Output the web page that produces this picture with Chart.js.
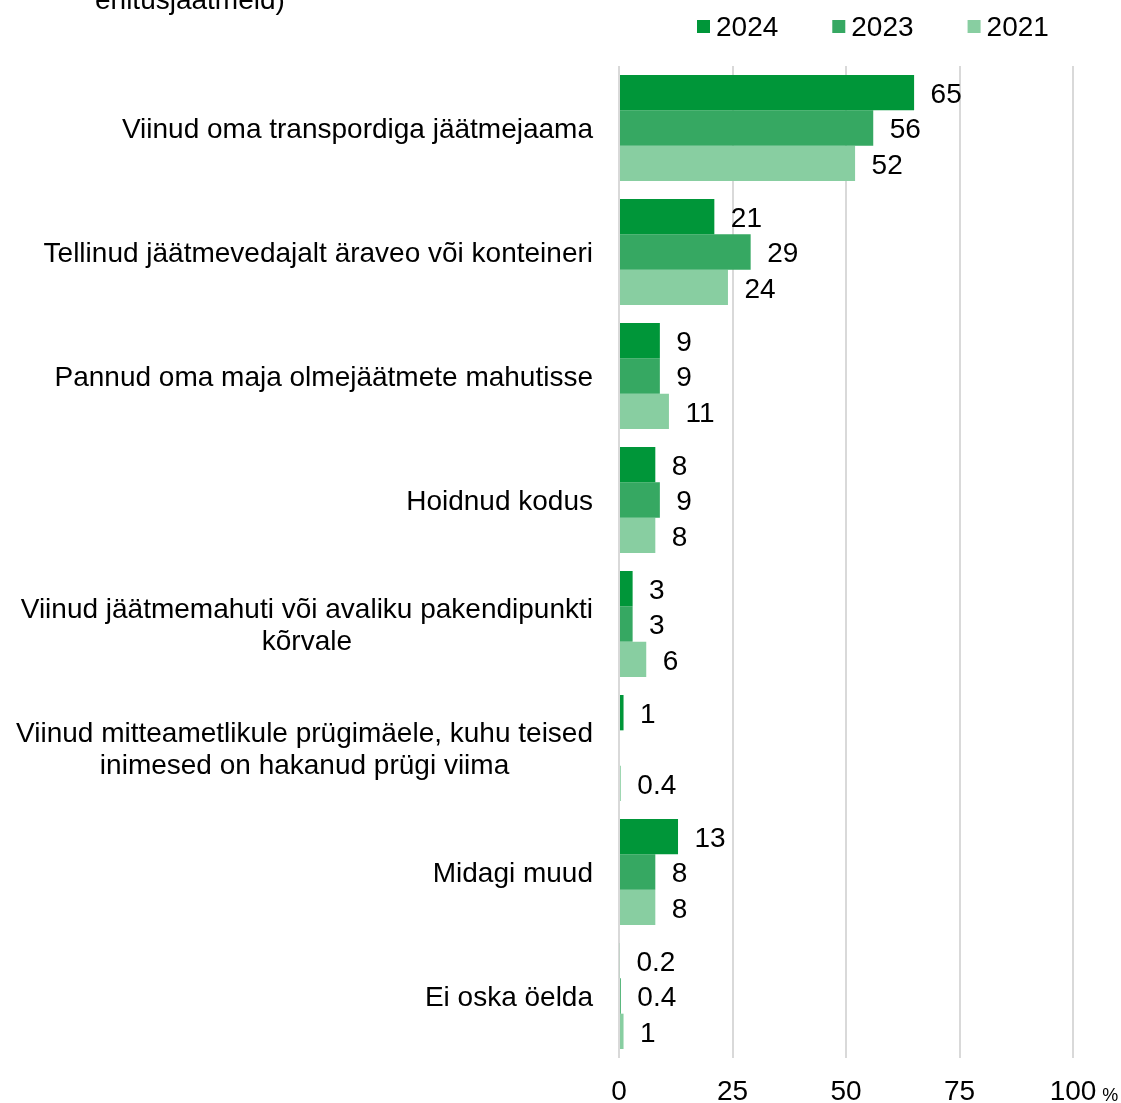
<!DOCTYPE html>
<html><head><meta charset="utf-8">
<script src="https://cdn.jsdelivr.net/npm/chart.js@4.4.1/dist/chart.umd.min.js"></script>
<style>
html,body{margin:0;padding:0;background:#fff;overflow:hidden}
#wrap{position:relative;width:1121px;height:1103px;overflow:hidden}
#title{position:absolute;left:95px;top:-14px;font:28px/28px "Liberation Sans",Arial,sans-serif;color:#000;white-space:nowrap}
canvas{display:block}
</style></head><body>
<div id="wrap"><canvas id="c" width="1121" height="1103"></canvas><div id="title">ehitusjäätmeid)</div></div>
<script>
const categories = [
  ["Viinud oma transpordiga jäätmejaama"],
  ["Tellinud jäätmevedajalt äraveo või konteineri"],
  ["Pannud oma maja olmejäätmete mahutisse"],
  ["Hoidnud kodus"],
  ["Viinud jäätmemahuti või avaliku pakendipunkti", "kõrvale"],
  ["Viinud mitteametlikule prügimäele, kuhu teised", "inimesed on hakanud prügi viima"],
  ["Midagi muud"],
  ["Ei oska öelda"]
];
const seriesNames = ["2024", "2023", "2021"];
const values2024 = [65, 21, 9, 8, 3, 1, 13, 0.2];
const values2023 = [56, 29, 9, 9, 3, null, 8, 0.4];
const values2021 = [52, 24, 11, 8, 6, 0.4, 8, 1];
const xTicks = [0, 25, 50, 75, 100];
const unitLabel = "%";

const colors = ["#009639", "#36a862", "#88cea1"];
const FONT = '"Liberation Sans", Arial, sans-serif';
const TY = 2.5; // vertical text nudge

const customPlugin = {
  id: 'custom',
  afterDraw(chart) {
    const ctx = chart.ctx;
    const area = chart.chartArea;
    const ys = chart.scales.y, xs = chart.scales.x;
    ctx.save();
    ctx.fillStyle = '#000';
    ctx.font = '28px ' + FONT;
    // category labels
    ctx.textAlign = 'center';
    ctx.textBaseline = 'middle';
    categories.forEach((lines, i) => {
      const py = ys.getPixelForValue(i);
      const maxW = Math.max(...lines.map(l => ctx.measureText(l).width));
      const cx = area.left - 26 - maxW / 2;
      lines.forEach((ln, j) => {
        ctx.fillText(ln, cx, py + TY + (j - (lines.length - 1) / 2) * 32);
      });
    });
    // data labels
    ctx.textAlign = 'left';
    chart.data.datasets.forEach((ds, d) => {
      const meta = chart.getDatasetMeta(d);
      meta.data.forEach((el, i) => {
        const v = ds.data[i];
        if (v === null || v === undefined) return;
        ctx.fillText(String(v), el.x + 16.5, el.y + TY);
      });
    });
    // legend
    let lx = 697;
    const ly = 26;
    chart.data.datasets.forEach((ds, d) => {
      ctx.fillStyle = ds.backgroundColor;
      ctx.fillRect(lx, ly - 6, 13, 13);
      ctx.fillStyle = '#000';
      ctx.textAlign = 'left';
      ctx.fillText(ds.label, lx + 19, ly + TY);
      lx += 19 + ctx.measureText(ds.label).width + 54;
    });
    // unit after last tick
    const lastVal = xTicks[xTicks.length - 1];
    const px = xs.getPixelForValue(lastVal);
    const w = ctx.measureText(String(lastVal)).width;
    ctx.font = '18px ' + FONT;
    ctx.textAlign = 'left';
    ctx.textBaseline = 'alphabetic';
    ctx.fillText(unitLabel, px + w / 2 + 6, 1101);
    ctx.restore();
  }
};

new Chart(document.getElementById('c'), {
  type: 'bar',
  data: {
    labels: categories.map(c => c.join(' ')),
    datasets: [
      { label: seriesNames[0], data: values2024, backgroundColor: colors[0] },
      { label: seriesNames[1], data: values2023, backgroundColor: colors[1] },
      { label: seriesNames[2], data: values2021, backgroundColor: colors[2] }
    ]
  },
  options: {
    indexAxis: 'y',
    responsive: false,
    animation: false,
    devicePixelRatio: 1,
    layout: { padding: { top: 66, right: 48, bottom: 0, left: 0 } },
    datasets: { bar: { barPercentage: 1, categoryPercentage: 0.855, borderWidth: 0 } },
    plugins: { legend: { display: false }, tooltip: { enabled: false }, title: { display: false } },
    scales: {
      y: {
        type: 'category',
        ticks: { display: false },
        grid: { display: false },
        border: { display: false },
        afterFit(scale) { scale.width = 619; }
      },
      x: {
        min: 0, max: 100,
        afterBuildTicks(scale) { scale.ticks = xTicks.map(v => ({ value: v })); },
        ticks: { color: '#000', font: { size: 28, family: FONT, lineHeight: 1 }, padding: 20 },
        grid: { color: '#d9d9d9', lineWidth: 2, drawTicks: false },
        border: { display: false },
        afterFit(scale) { scale.height = 45; }
      }
    }
  },
  plugins: [customPlugin]
});
</script>
</body></html>
